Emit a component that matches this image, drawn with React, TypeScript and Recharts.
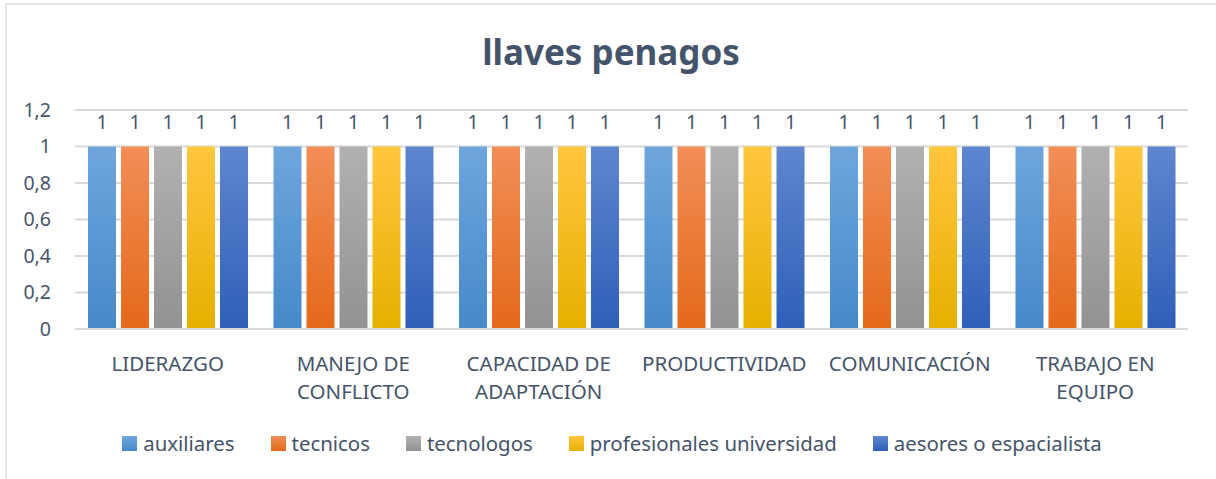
import React from "react";
import {
  BarChart,
  Bar,
  XAxis,
  YAxis,
  CartesianGrid,
  LabelList,
} from "recharts";

const categories = [
  "LIDERAZGO",
  "MANEJO DE CONFLICTO",
  "CAPACIDAD DE ADAPTACIÓN",
  "PRODUCTIVIDAD",
  "COMUNICACIÓN",
  "TRABAJO EN EQUIPO",
];

const auxiliares = [1, 1, 1, 1, 1, 1];
const tecnicos = [1, 1, 1, 1, 1, 1];
const tecnologos = [1, 1, 1, 1, 1, 1];
const profesionales = [1, 1, 1, 1, 1, 1];
const aesores = [1, 1, 1, 1, 1, 1];

const yTicks = [0, 0.2, 0.4, 0.6, 0.8, 1, 1.2];

const series = [
  { key: "auxiliares", label: "auxiliares", values: auxiliares, top: "#6fa6dd", bottom: "#4689c9" },
  { key: "tecnicos", label: "tecnicos", values: tecnicos, top: "#f28e57", bottom: "#e4691a" },
  { key: "tecnologos", label: "tecnologos", values: tecnologos, top: "#b1b1b1", bottom: "#929292" },
  { key: "profesionales", label: "profesionales universidad", values: profesionales, top: "#ffc640", bottom: "#e6b000" },
  { key: "aesores", label: "aesores o espacialista", values: aesores, top: "#5f86cf", bottom: "#2e5fb8" },
];

const data = categories.map((name, i) => {
  const row: Record<string, string | number> = { name };
  series.forEach((s) => (row[s.key] = s.values[i]));
  return row;
});

const FONT = "'Noto Sans', sans-serif";
const TEXT = "#44546a";
const TICK_SIZE = 20.5;

const fmt = (v: number) => String(v).replace(".", ",");

let ctx: CanvasRenderingContext2D | null = null;
function measure(s: string) {
  if (!ctx) ctx = document.createElement("canvas").getContext("2d");
  if (!ctx) return s.length * TICK_SIZE * 0.65;
  ctx.font = `${TICK_SIZE}px 'Noto Sans'`;
  return ctx.measureText(s).width;
}

function wrap(label: string, maxWidth: number) {
  const lines: string[] = [];
  let cur = "";
  label.split(" ").forEach((w) => {
    const next = cur ? `${cur} ${w}` : w;
    if (cur && measure(next) > maxWidth) {
      lines.push(cur);
      cur = w;
    } else cur = next;
  });
  if (cur) lines.push(cur);
  return lines;
}

function CategoryTick(props: any) {
  const { x, y, payload } = props;
  const lines = wrap(payload.value, 176);
  return (
    <text
      x={x}
      y={y + 19}
      textAnchor="middle"
      fontSize={TICK_SIZE}
      fontFamily={FONT}
      fill={TEXT}
    >
      {lines.map((l, i) => (
        <tspan key={i} x={x} dy={i === 0 ? "0.71em" : 28}>
          {l}
        </tspan>
      ))}
    </text>
  );
}

function LegendRow() {
  return (
    <div
      style={{
        position: "absolute",
        top: 429,
        left: 4,
        width: 1216,
        display: "flex",
        justifyContent: "center",
        gap: 36,
        fontFamily: FONT,
        fontSize: 20.4,
        color: TEXT,
      }}
    >
      {series.map((s) => (
        <div key={s.key} style={{ display: "flex", alignItems: "center", gap: 6 }}>
          <span
            style={{
              width: 15,
              height: 15,
              display: "inline-block",
              background: `linear-gradient(${s.top}, ${s.bottom})`,
            }}
          />
          <span>{s.label}</span>
        </div>
      ))}
    </div>
  );
}

export default function App() {
  return (
    <div style={{ position: "absolute", left: 0, top: 0, width: 1216, height: 479, background: "#fff", overflow: "hidden" }}>
      <div
        style={{
          position: "absolute",
          left: 5,
          top: 3,
          width: 1220,
          height: 490,
          borderLeft: "2px solid #e3e6ea",
          borderTop: "2px solid #e3e6ea",
        }}
      />
      <div
        style={{
          position: "absolute",
          top: 28,
          left: 3,
          width: 1216,
          textAlign: "center",
          fontFamily: FONT,
          fontWeight: 700,
          fontSize: 35,
          color: TEXT,
        }}
      >
        llaves penagos
      </div>
      <BarChart
        width={1216}
        height={479}
        data={data}
        margin={{ top: 110, right: 28, bottom: 70, left: 0 }}
        barCategoryGap={13}
        barGap={5}
        style={{ position: "absolute", left: 0, top: 0 }}
      >
        <defs>
          {series.map((s) => (
            <linearGradient key={s.key} id={`g-${s.key}`} x1="0" y1="0" x2="0" y2="1">
              <stop offset="0%" stopColor={s.top} />
              <stop offset="100%" stopColor={s.bottom} />
            </linearGradient>
          ))}
        </defs>
        <CartesianGrid vertical={false} stroke="#d9d9d9" strokeWidth={2} />
        <XAxis
          dataKey="name"
          axisLine={{ stroke: "#d9d9d9", strokeWidth: 2 }}
          tickLine={false}
          tick={<CategoryTick />}
          interval={0}
          height={80}
        />
        <YAxis
          width={75}
          domain={[0, 1.2]}
          ticks={yTicks}
          interval={0}
          axisLine={false}
          tickLine={false}
          tickFormatter={fmt}
          tickMargin={18}
          tick={{ fontSize: 19.5, fontFamily: FONT, fill: TEXT }}
        />
        {series.map((s) => (
          <Bar
            key={s.key}
            dataKey={s.key}
            name={s.label}
            fill={`url(#g-${s.key})`}
            isAnimationActive={false}
          >
            <LabelList
              dataKey={s.key}
              position="top"
              offset={18}
              formatter={fmt}
              style={{ fontSize: 19.5, fontFamily: FONT, fill: TEXT }}
            />
          </Bar>
        ))}
      </BarChart>
      <LegendRow />
    </div>
  );
}
